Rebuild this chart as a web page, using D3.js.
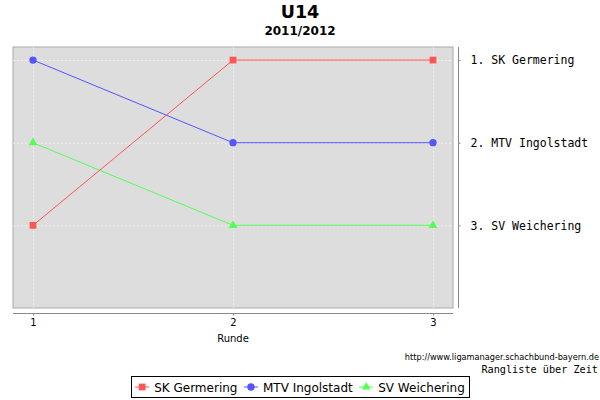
<!DOCTYPE html>
<html><head><meta charset="utf-8">
<script src="https://cdn.jsdelivr.net/npm/d3@7"></script>
<style>body{margin:0;background:#fff}svg{display:block}</style>
</head><body>
<svg id="c" width="600" height="400"></svg>
<script>
const rounds = [1, 2, 3];
const teams = ["SK Germering", "MTV Ingolstadt", "SV Weichering"];
const rankSK = [3, 1, 1];
const rankMTV = [1, 2, 2];
const rankSV = [2, 3, 3];
const rankTicks = [1, 2, 3];
const rankLabels = ["1. SK Germering", "2. MTV Ingolstadt", "3. SV Weichering"];
const colors = ["#FF5555", "#5555FF", "#55FF55"];
const shapes = [d3.symbolSquare, d3.symbolCircle, d3.symbolTriangle];
const series = [rankSK, rankMTV, rankSV];

const svg = d3.select("#c");
const L = 13, R = 453, T = 47, B = 308;
const x = d3.scaleLinear().domain([0.9, 3.1]).range([L, R]);
const y = d3.scaleLinear().domain([0.842, 4.0]).range([T, B]);

// titles
svg.append("text").attr("x", 300).attr("y", 18).attr("text-anchor", "middle")
  .attr("font-family", "DejaVu Sans").attr("font-weight", "bold").attr("font-size", 17.5).text("U14");
svg.append("text").attr("x", 300).attr("y", 35).attr("text-anchor", "middle")
  .attr("font-family", "DejaVu Sans").attr("font-weight", "bold").attr("font-size", 12).text("2011/2012");

// plot background
svg.append("rect").attr("x", L).attr("y", T).attr("width", R - L).attr("height", B - T)
  .attr("fill", "#DDDDDD").attr("stroke", "#AAAAAA").attr("stroke-width", 1);

// grid
const g = svg.append("g");
g.selectAll(".vx").data(rounds).join("line")
  .attr("x1", d => x(d) + 0.5).attr("x2", d => x(d) + 0.5).attr("y1", T).attr("y2", B)
  .attr("stroke", "#fff").attr("stroke-width", 0.6).attr("stroke-dasharray", "2,2");
g.selectAll(".hy").data(rankTicks).join("line")
  .attr("y1", d => y(d) + 0.5).attr("y2", d => y(d) + 0.5).attr("x1", L).attr("x2", R)
  .attr("stroke", "#fff").attr("stroke-width", 0.6).attr("stroke-dasharray", "2,2");

// lines and markers (reverse order so first series is on top)
const line = d3.line().x((d, i) => x(rounds[i])).y(d => y(d));
const sizes = [46, 42, 34];
for (let s = series.length - 1; s >= 0; s--) {
  svg.append("path").datum(series[s]).attr("d", line)
    .attr("fill", "none").attr("stroke", colors[s]).attr("stroke-width", 1);
  svg.selectAll(".m" + s).data(series[s]).join("path")
    .attr("transform", (d, i) => `translate(${x(rounds[i])},${y(d)})`)
    .attr("d", d3.symbol().type(shapes[s]).size(sizes[s]))
    .attr("fill", colors[s]);
}

// x axis
const xa = svg.append("g").attr("transform", `translate(0,313.5)`)
  .call(d3.axisBottom(x).tickValues(rounds).tickFormat(d3.format("d")).tickSize(2).tickSizeOuter(0));
xa.select(".domain").attr("stroke", "#888").attr("d", `M${L},0H${R}`);
xa.selectAll(".tick line").attr("stroke", "#888");
xa.selectAll("text").attr("font-family", "DejaVu Sans").attr("font-size", 10).attr("fill", "#000").attr("dy", "0.95em").attr("y", 3);
svg.append("text").attr("x", x(2)).attr("y", 342).attr("text-anchor", "middle")
  .attr("font-family", "DejaVu Sans").attr("font-size", 10).text("Runde");

// right axis
const ya = svg.append("g").attr("transform", `translate(458.5,0)`)
  .call(d3.axisRight(y).tickValues(rankTicks).tickFormat((d, i) => rankLabels[i]).tickSize(2).tickSizeOuter(0));
ya.select(".domain").attr("stroke", "#888").attr("d", `M0,${T}V${B}`);
ya.selectAll(".tick line").attr("stroke", "#888");
ya.selectAll("text").attr("font-family", "DejaVu Sans Mono").attr("font-size", 11.5).attr("fill", "#000").attr("x", 12);

// source texts
svg.append("text").attr("x", 599).attr("y", 360).attr("text-anchor", "end")
  .attr("font-family", "DejaVu Sans").attr("font-size", 8.2).text("http://www.ligamanager.schachbund-bayern.de");
svg.append("text").attr("x", 598).attr("y", 373).attr("text-anchor", "end")
  .attr("font-family", "DejaVu Sans Mono").attr("font-size", 10.2).text("Rangliste über Zeit");

// legend
const lg = svg.append("g");
const box = lg.append("rect").attr("y", 376.5).attr("height", 21).attr("fill", "#fff").attr("stroke", "#000").attr("stroke-width", 1);
const items = [];
teams.forEach((t, s) => {
  const it = lg.append("g");
  it.append("line").attr("x1", 0).attr("x2", 14).attr("y1", 387).attr("y2", 387).attr("stroke", colors[s]).attr("stroke-width", 1);
  it.append("path").attr("transform", "translate(7,387)")
    .attr("d", d3.symbol().type(shapes[s]).size(sizes[s])).attr("fill", colors[s]);
  const tx = it.append("text").attr("x", 19).attr("y", 391.5).attr("font-family", "DejaVu Sans").attr("font-size", 12).text(t);
  const w = 19 + tx.node().getComputedTextLength();
  items.push({it, w});
});
const gap = 6.5;
const total = items.reduce((a, b) => a + b.w, 0) + gap * (items.length - 1);
let start = 300 - total / 2;
box.attr("x", Math.round(start - 4) + 0.5).attr("width", Math.round(total + 8));
items.forEach(o => { o.it.attr("transform", `translate(${start},0)`); start += o.w + gap; });
</script>
</body></html>
